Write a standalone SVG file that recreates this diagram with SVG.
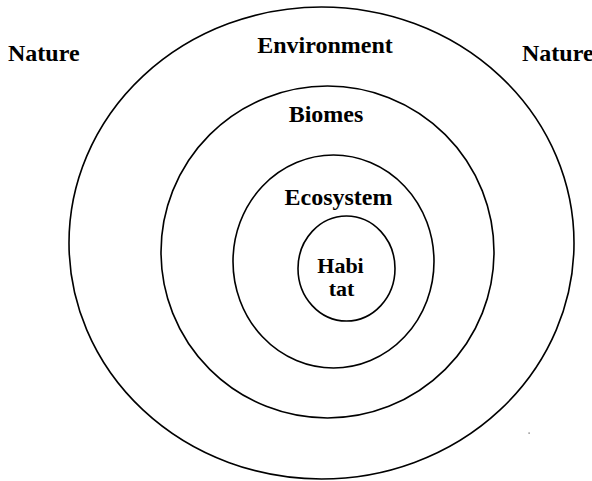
<svg xmlns="http://www.w3.org/2000/svg" width="592" height="481" viewBox="0 0 592 481">
  <style>
    .ring { fill: none; stroke: #000; stroke-width: 1.6; }
    .lbl { font-family: "Liberation Serif", "Times New Roman", serif; font-weight: bold; font-size: 24px; fill: #000; }
    .sm { font-size: 22px; }
  </style>
  <rect x="0" y="0" width="592" height="481" fill="#fff"/>
  <g id="environment">
    <ellipse class="ring" cx="321.5" cy="243" rx="252.5" ry="236"/>
    <text class="lbl" x="325" y="53" text-anchor="middle">Environment</text>
  </g>
  <g id="biomes">
    <ellipse class="ring" cx="327.5" cy="252" rx="166.5" ry="166"/>
    <text class="lbl" x="326" y="122" text-anchor="middle">Biomes</text>
  </g>
  <g id="ecosystem">
    <ellipse class="ring" cx="333.5" cy="261.5" rx="100.5" ry="106.5"/>
    <text class="lbl" x="338.5" y="205" text-anchor="middle">Ecosystem</text>
  </g>
  <g id="habitat">
    <ellipse class="ring" cx="346.5" cy="268.5" rx="48.5" ry="52.5"/>
    <text class="lbl sm" x="340.5" y="273" text-anchor="middle">Habi</text>
    <text class="lbl sm" x="341.5" y="296" text-anchor="middle">tat</text>
  </g>
  <g id="nature-left">
    <text class="lbl" x="8" y="61">Nature</text>
  </g>
  <g id="nature-right">
    <text class="lbl" x="522" y="61">Nature</text>
  </g>
  <g id="connectors"></g>
  <rect x="528.5" y="432.5" width="1.2" height="1.2" fill="#555"/>
</svg>
